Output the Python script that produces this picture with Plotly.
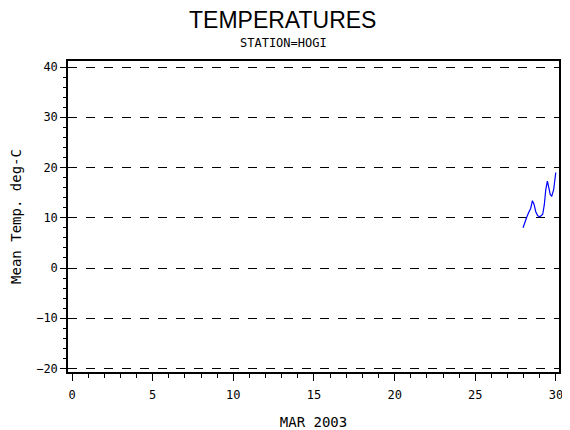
import plotly.graph_objects as go

# hourly mean temperatures, end of March 2003
day = [27.96, 28.08, 28.2, 28.33, 28.44, 28.54, 28.64, 28.75, 28.87, 29.01,
       29.18, 29.28, 29.37, 29.47, 29.55, 29.65, 29.74, 29.86, 29.99]
temp = [8.0, 9.2, 10.2, 11.2, 11.9, 13.4, 12.7, 11.2, 10.4, 10.2,
        10.7, 12.6, 15.6, 17.3, 16.3, 14.6, 14.3, 15.6, 19.0]

x_ticks = [0, 5, 10, 15, 20, 25, 30]
y_ticks = [-20, -10, 0, 10, 20, 30, 40]

mono = "DejaVu Sans Mono"
# page body has an 8px margin, so the figure is 8px smaller than the window
W, H, LEFT, RIGHT, TOP, BOT = 562, 422, 60, 11, 53, 58
plot_w = W - LEFT - RIGHT
plot_h = H - TOP - BOT


def px(col):
    # pixel column of the figure -> paper coordinate
    return (col - LEFT) / plot_w


def py(row):
    # pixel row from the top of the figure -> paper coordinate
    return (H - row - BOT) / plot_h


fig = go.Figure()
fig.add_trace(go.Scatter(x=day, y=temp, mode="lines",
                         line=dict(color="#0000ff", width=1.2), showlegend=False))

fig.update_layout(
    width=W, height=H,
    paper_bgcolor="white", plot_bgcolor="white",
    margin=dict(l=LEFT, r=RIGHT, t=TOP, b=BOT),
    font=dict(family=mono, size=12, color="black"),
    annotations=[
        dict(text="TEMPERATURES", x=px(274), y=py(12), xref="paper", yref="paper",
             yanchor="middle", showarrow=False,
             font=dict(family="Liberation Sans", size=23)),
        dict(text="STATION=HOGI", x=px(275), y=py(35), xref="paper", yref="paper",
             yanchor="middle", showarrow=False, font=dict(family=mono, size=12)),
    ],
)

fig.update_xaxes(
    range=[-0.25, 30.19], tickvals=x_ticks, showgrid=False, zeroline=False,
    showline=True, linecolor="black", linewidth=1.5, mirror=True, automargin=False,
    ticks="outside", ticklen=7, tickwidth=1, tickcolor="black", ticklabelstandoff=4,
    minor=dict(dtick=1, ticks="outside", ticklen=4, tickcolor="black", showgrid=False),
    title=dict(text="MAR 2003", standoff=16),
)
fig.update_yaxes(
    range=[-20.7, 41.2], tickvals=y_ticks, zeroline=False,
    showgrid=True, gridcolor="black", griddash="dash", gridwidth=1,
    showline=True, linecolor="black", linewidth=1.5, mirror=True, automargin=False,
    ticks="outside", ticklen=6, tickwidth=1, tickcolor="black",
    minor=dict(dtick=2, ticks="outside", ticklen=3, tickcolor="black", showgrid=False),
    title=dict(text="Mean Temp. deg-C", standoff=12),
)

fig.write_html("out.html")
